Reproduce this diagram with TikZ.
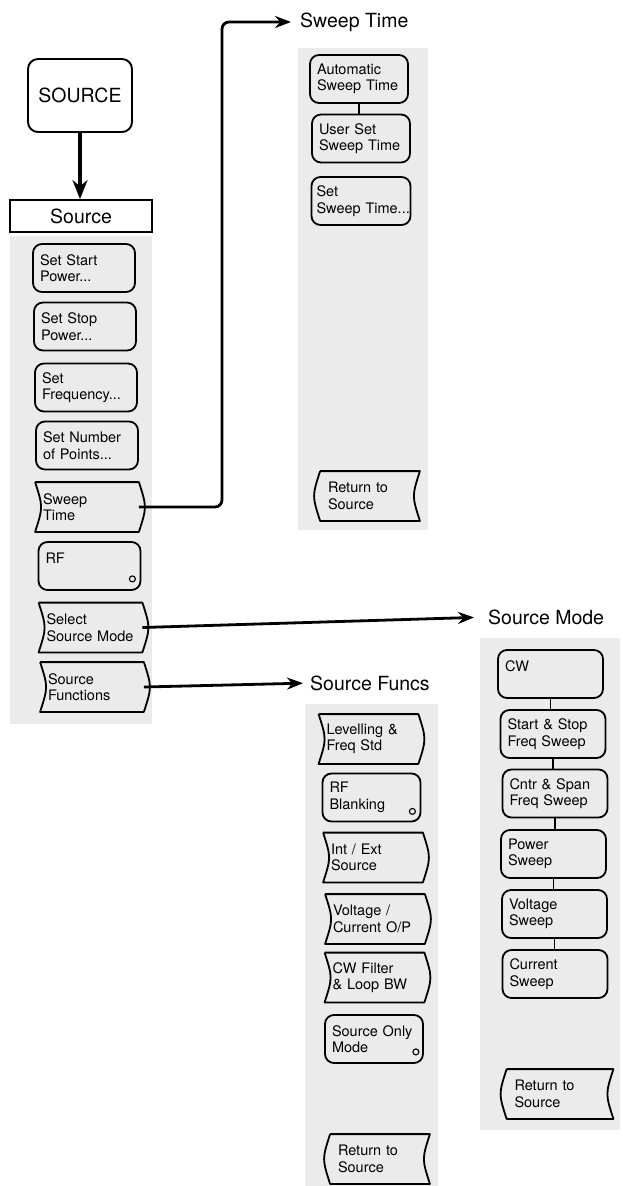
\documentclass[tikz,border=0pt]{standalone}
\usepackage{fontspec}
\setmainfont{TeX Gyre Heros}
\usetikzlibrary{calc,arrows.meta}
\tikzset{
  keyline/.style={line width=1.8pt, line join=round},
  softkey/.style={draw, line width=1.8pt, rounded corners=9pt, minimum height=48pt,
    text width=88pt, inner xsep=7pt, inner ysep=3pt, align=left,
    font=\fontsize{14.5}{16.5}\selectfont},
  flagkey/.style={softkey, draw=none},
  shade/.style={fill=black!8, draw=none},
  conn/.style={line width=2.8pt, -{Stealth[length=16pt,width=12pt]}},
  link/.style={line width=1.3pt},
  menutitle/.style={font=\fontsize{19.5}{22}\selectfont, inner sep=0pt, anchor=west},
  dotmark/.style={circle, draw, line width=1.1pt, minimum size=6pt, inner sep=0pt},
}
\newcommand\fwdflag[1]{\draw[keyline] (#1.north west) -- (#1.north east)
  .. controls ($(#1.east)+(8,0)$) .. (#1.south east) -- (#1.south west)
  .. controls ($(#1.west)+(8,0)$) .. (#1.north west);}
\newcommand\retflag[1]{\draw[keyline] (#1.north west) -- (#1.north east)
  .. controls ($(#1.east)+(-8,0)$) .. (#1.south east) -- (#1.south west)
  .. controls ($(#1.west)+(-8,0)$) .. (#1.north west);}
\begin{document}
\begin{tikzpicture}[x=1pt,y=-1pt]
\useasboundingbox (0,0) rectangle (623,1186);
% stippled backgrounds
\fill[shade] (10,236) rectangle (152,724);
\fill[shade] (298,48) rectangle (428,530);
\fill[shade] (305,704) rectangle (438,1186);
\fill[shade] (480,638) rectangle (620,1130);

% hard key and menu title
\node[draw, line width=1.9pt, rounded corners=10pt, minimum width=104pt, minimum height=73pt,
  font=\fontsize{19.5}{22}\selectfont] (srckey) at (80,95.5) {SOURCE};
\node[draw, line width=1.8pt, minimum width=142pt, minimum height=32pt,
  font=\fontsize{19.5}{22}\selectfont] (srcmenu) at (81,216) {Source};
\draw[line width=3.6pt, -{Stealth[length=19pt,width=15pt]}] (srckey.south) -- (srckey.south |- srcmenu.north);

% Source menu
\node[softkey] (startp) at (84,268) {Set Start\\Power...};
\node[softkey] (stopp) at (85,326.5) {Set Stop\\Power...};
\node[softkey] (freq) at (86,387.5) {Set\\Frequency...};
\node[softkey] (npts) at (87,445.5) {Set Number\\of Points...};
\node[flagkey] (sweept) at (87,507) {Sweep\\Time};
\node[softkey] (rf) at (89.5,566) {RF\\\mbox{}};
\node[flagkey] (ssm) at (90.5,627.5) {Select\\Source~Mode};
\node[flagkey] (sfun) at (92,687) {Source\\Functions};
\node[dotmark] (rfdot) at ($(rf.south east)+(-9,-12)$) {};
\fwdflag{sweept}
\fwdflag{ssm}
\fwdflag{sfun}

% Sweep Time menu
\node[menutitle] (sttitle) at (300,22) {Sweep Time};
\node[softkey, text width=84pt] (auto) at (359,79) {Automatic\\Sweep Time};
\node[softkey, text width=84pt] (user) at (361,138.5) {User Set\\Sweep Time};
\node[softkey, text width=89pt, inner xsep=5pt] (setst) at (361,201) {Set\\Sweep~Time...};
\node[flagkey, text width=84pt] (ret1) at (370,496) {Return to\\Source};
\retflag{ret1}
\draw[link] (auto.south) -- (auto.south |- user.north);

% Source Funcs menu
\node[menutitle] (sftitle) at (310,683) {Source Funcs};
\node[flagkey, text width=84pt] (lev) at (368.5,739) {Levelling \&\\Freq Std};
\node[softkey, text width=84pt] (rfb) at (371.5,797.5) {RF\\Blanking};
\node[flagkey, text width=84pt] (intext) at (373,857.5) {Int / Ext\\Source};
\node[flagkey, text width=84pt] (volt) at (375,919) {Voltage /\\Current~O/P};
\node[flagkey, text width=84pt] (cwf) at (374.5,977.5) {CW Filter\\\& Loop BW};
\node[softkey, text width=84pt] (som) at (374,1039) {Source~Only\\Mode};
\node[flagkey, text width=84pt] (ret2) at (380,1159) {Return to\\Source};
\node[dotmark] (rfbdot) at ($(rfb.south east)+(-9,-11)$) {};
\node[dotmark] (somdot) at ($(som.south east)+(-8,-12)$) {};
\fwdflag{lev}
\fwdflag{intext}
\fwdflag{volt}
\fwdflag{cwf}
\retflag{ret2}

% Source Mode menu
\node[menutitle] (smtitle) at (488,617) {Source Mode};
\node[softkey, text width=91pt] (cw) at (550.5,674) {CW\\\mbox{}};
\node[softkey, text width=91pt] (ss) at (553,734) {Start \& Stop\\Freq Sweep};
\node[softkey, text width=91pt] (cs) at (555,793.5) {Cntr \& Span\\Freq Sweep};
\node[softkey, text width=91pt] (pw) at (553.5,854) {Power\\Sweep};
\node[softkey, text width=91pt] (vs) at (554.5,914) {Voltage\\Sweep};
\node[softkey, text width=91pt] (cus) at (555,974) {Current\\Sweep};
\node[flagkey, text width=91pt] (ret3) at (560,1094) {Return to\\Source};
\retflag{ret3}
\draw[link] (cw.south) -- (cw.south |- ss.north);
\draw[link] (ss.south) -- (ss.south |- cs.north);
\draw[link] (cs.south) -- (cs.south |- pw.north);
\draw[link] (pw.south) -- (pw.south |- vs.north);
\draw[link] (vs.south) -- (vs.south |- cus.north);

% connectors to submenus
\coordinate (stbend) at (222,0);
\draw[conn, rounded corners=7pt, shorten >=9pt] (sweept.east) -| (stbend |- sttitle.west) -- (sttitle.west);
\draw[conn, shorten >=14pt] (ssm.east) -- (smtitle.west);
\draw[conn, shorten >=7pt] (sfun.east) -- (sftitle.west);
\end{tikzpicture}
\end{document}
